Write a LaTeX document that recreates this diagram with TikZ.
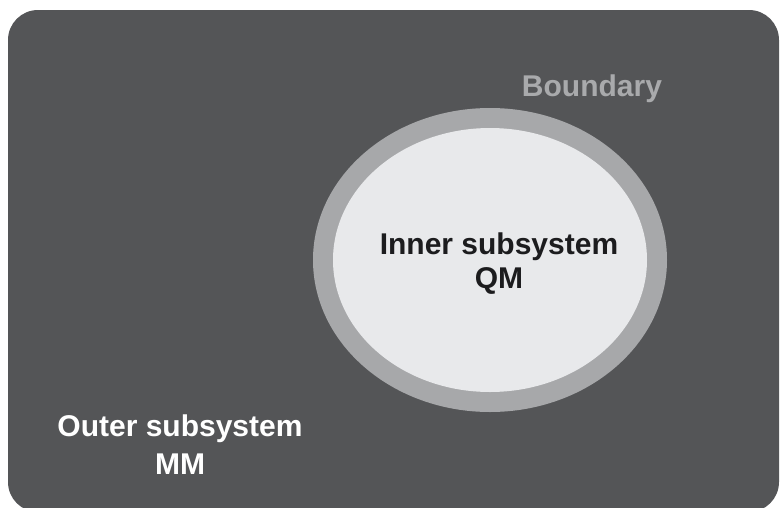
\documentclass[tikz,border=0pt]{standalone}
\usepackage{fontspec}
\setmainfont{Liberation Sans}
\usetikzlibrary{positioning}
\definecolor{slate}{HTML}{545557}
\definecolor{ring}{HTML}{A7A8AA}
\definecolor{core}{HTML}{E8E9EB}
\definecolor{ink}{HTML}{1C1C1E}
\definecolor{pale}{HTML}{A9AAAC}

\begin{document}
\begin{tikzpicture}[x=1pt,y=-1pt,font=\bfseries,
    tag/.style={align=center,inner sep=0pt}]
  \useasboundingbox (0,0) rectangle (780,507);
  % outer region
  \fill[slate,rounded corners=30pt] (8,10) rectangle (779,512);
  % boundary ring & inner region
  \fill[ring] (490,260) ellipse [x radius=177pt,y radius=152pt];
  \fill[core] (490,260) ellipse [x radius=157pt,y radius=132pt];
  % labels
  \node[tag,text=ink,font=\fontsize{30}{34}\selectfont\bfseries] (inner) at (499,264)
      {Inner subsystem\\QM};
  \node[tag,text=white,font=\fontsize{30}{38}\selectfont\bfseries] (outer) at (180,445)
      {Outer subsystem\\MM};
  \node[tag,text=pale,anchor=base,font=\fontsize{30}{34}\selectfont\bfseries] (bound) at (592,96)
      {Boundary};
\end{tikzpicture}
\end{document}
